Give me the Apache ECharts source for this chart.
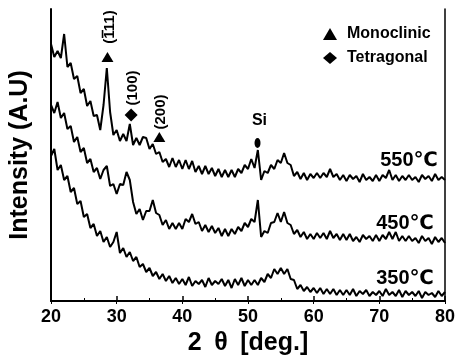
<!DOCTYPE html>
<html>
<head>
<meta charset="utf-8">
<script src="https://cdn.jsdelivr.net/npm/echarts@6/dist/echarts.min.js"></script>
<style>
html,body{margin:0;padding:0;background:#fff;}
#chart{width:458px;height:361px;}
</style>
</head>
<body>
<div id="chart"></div>
<script>
// 2-theta sampling grid (degrees)
const thetaStart = 20;
const thetaStep = 0.5;
const xTicks = [20, 30, 40, 50, 60, 70, 80];

// Intensity (a.u.), one value per 0.5 deg from 20 to 80
const int550 = [
  257,244,250,243,267,234,238,222,225,208,
  212,195,200,185,186,171,196,233,189,166,
  171,160,167,160,177,156,163,156,164,163,
  152,157,147,149,139,142,134,143,134,141,
  132,141,132,140,129,135,127,135,127,133,
  125,132,124,131,124,131,124,132,128,136,
  132,142,133,151,121,130,128,136,132,141,
  138,148,138,136,125,129,122,128,121,127,
  123,128,123,128,124,132,124,127,121,126,
  120,126,122,125,119,127,121,124,120,126,
  120,126,123,131,121,126,120,125,121,126,
  121,124,119,126,122,125,120,127,121,124,
  121
];
const int450 = [
  196,188,199,183,188,172,175,159,164,149,
  153,138,142,129,133,122,131,135,115,117,
  107,117,116,129,121,99,87,92,81,90,
  90,101,88,86,76,81,72,78,72,78,
  72,82,79,87,77,79,70,76,69,75,
  68,73,65,72,65,72,67,74,70,78,
  74,82,79,101,64,70,68,78,79,88,
  79,89,78,76,67,71,64,69,62,67,
  62,68,63,68,62,70,63,67,61,67,
  61,67,60,64,59,66,62,65,60,66,
  60,66,62,69,62,69,60,65,60,65,
  60,63,58,65,60,63,57,64,59,63,
  58
];
const int350 = [
  145,152,131,136,121,125,109,113,97,100,
  84,87,73,77,65,70,59,64,54,59,
  69,48,53,44,49,40,44,34,37,29,
  33,25,29,22,27,20,25,18,23,17,
  22,16,24,15,20,17,21,14,23,16,
  20,17,22,15,21,13,22,16,23,15,
  21,16,21,16,23,19,27,23,32,27,
  33,27,32,22,21,12,16,10,14,9,
  13,8,13,7,12,7,12,6,11,6,
  11,6,12,5,10,7,11,5,9,6,
  10,5,12,6,9,5,11,4,10,6,
  9,5,10,3,9,6,8,4,10,5,
  9
];

// Peak markers: [2theta, intensity]
const peakSymbols = [
  {kind:'triangle', pos:[28.6, 244]},
  {kind:'diamond',  pos:[32.2, 186]},
  {kind:'triangle', pos:[36.5, 164]},
  {kind:'ellipse',  pos:[51.45, 158]},
  {kind:'bar',      pos:[27.85, 267]}
];
const peakTexts = [
  {text:'(111)', pos:[28.9, 274], rotate:90, size:15, align:'center'},
  {text:'(100)', pos:[32.5, 213], rotate:90, size:15, align:'center'},
  {text:'(200)', pos:[36.8, 189], rotate:90, size:15, align:'center'},
  {text:'Si',    pos:[51.75, 180], rotate:0, size:16, align:'center'},
  {text:'550\u2103', pos:[78.9, 141], rotate:0, size:20, align:'right'},
  {text:'450\u2103', pos:[78.3, 78],  rotate:0, size:20, align:'right'},
  {text:'350\u2103', pos:[78.3, 23],  rotate:0, size:20, align:'right'}
];

const FONT = '"Liberation Sans", Arial, "DejaVu Sans", sans-serif';
const toXY = arr => arr.map((v, i) => [thetaStart + i * thetaStep, v]);

const lineSeries = (name, arr) => ({
  name, type:'line', data: toXY(arr), showSymbol:false, symbol:'none',
  lineStyle:{color:'#000', width:2}, itemStyle:{color:'#000'},
  animation:false, silent:true, z:3
});

const symbolData = peakSymbols.map(m => {
  const base = {value:m.pos, itemStyle:{color:'#000', opacity:1}};
  if (m.kind === 'bar') return Object.assign(base, {symbol:'rect', symbolSize:[1.6,8]});
  if (m.kind === 'triangle') return Object.assign(base, {symbol:'triangle', symbolSize:[12,10]});
  if (m.kind === 'diamond') return Object.assign(base, {symbol:'diamond', symbolSize:[13,13]});
  return Object.assign(base, {symbol:'circle', symbolSize:[6,10]});
});

const chart = echarts.init(document.getElementById('chart'), null, {renderer:'canvas'});
chart.setOption({
  animation:false,
  backgroundColor:'#fff',
  grid:{left:51, right:11, top:9, bottom:60, containLabel:false},
  legend:{
    data:['Monoclinic','Tetragonal'], orient:'vertical', left:318, top:21,
    itemWidth:14, itemHeight:12, itemGap:8,
    textStyle:{fontSize:16, fontWeight:'bold', color:'#000', fontFamily:FONT, padding:[0,0,0,5]},
    selectedMode:false
  },
  xAxis:[{
    type:'value', min:xTicks[0], max:xTicks[xTicks.length-1], interval:10,
    axisLine:{show:true, lineStyle:{color:'#000', width:2}},
    axisTick:{show:true, inside:true, length:5, lineStyle:{color:'#000', width:1.5}},
    minorTick:{show:true, splitNumber:2, length:3, lineStyle:{color:'#000', width:1}},
    axisLabel:{fontSize:18, fontWeight:'bold', color:'#000', margin:7, fontFamily:FONT},
    splitLine:{show:false},
    name:'2\u2002\u03b8\u2002[deg.]', nameLocation:'middle', nameGap:30,
    nameTextStyle:{fontSize:25, fontWeight:'bold', color:'#000', fontFamily:FONT}
  },{
    type:'value', position:'top', min:xTicks[0], max:xTicks[xTicks.length-1], interval:10,
    axisLine:{show:true, lineStyle:{color:'#000', width:1.5}},
    axisTick:{show:true, inside:true, length:3, lineStyle:{color:'#000'}},
    axisLabel:{show:false}, splitLine:{show:false}
  }],
  yAxis:[{
    type:'value', min:0, max:292,
    axisLine:{show:true, lineStyle:{color:'#000', width:2}},
    axisTick:{show:false}, axisLabel:{show:false}, splitLine:{show:false},
    name:'Intensity (A.U)', nameLocation:'middle', nameGap:18, nameRotate:90,
    nameTextStyle:{fontSize:25, fontWeight:'bold', color:'#000', fontFamily:FONT}
  },{
    type:'value', position:'right', min:0, max:292,
    axisLine:{show:true, lineStyle:{color:'#000', width:1.5}},
    axisTick:{show:false}, axisLabel:{show:false}, splitLine:{show:false}
  }],
  series:[
    lineSeries('550', int550),
    lineSeries('450', int450),
    lineSeries('350', int350),
    {name:'Monoclinic', type:'scatter', symbol:'triangle', symbolSize:[12,10], itemStyle:{color:'#000', opacity:1}, data:[]},
    {name:'Tetragonal', type:'scatter', symbol:'diamond', symbolSize:[13,13], itemStyle:{color:'#000', opacity:1}, data:[]},
    {name:'peaks', type:'scatter', data:symbolData, silent:true, z:5, animation:false,
      itemStyle:{opacity:1}, emphasis:{disabled:true}}
  ]
});

// Text annotations placed through the chart's own coordinate conversion
const graphics = peakTexts.map(t => {
  const p = chart.convertToPixel({xAxisIndex:0, yAxisIndex:0}, t.pos);
  return {
    type:'text', x:p[0], y:p[1], rotation: t.rotate * Math.PI / 180, z:10, silent:true,
    style:{text:t.text, fill:'#000', font:'bold ' + t.size + 'px ' + FONT,
      textAlign:t.align, textVerticalAlign:'middle'}
  };
});
chart.setOption({graphic:graphics});
</script>
</body>
</html>
